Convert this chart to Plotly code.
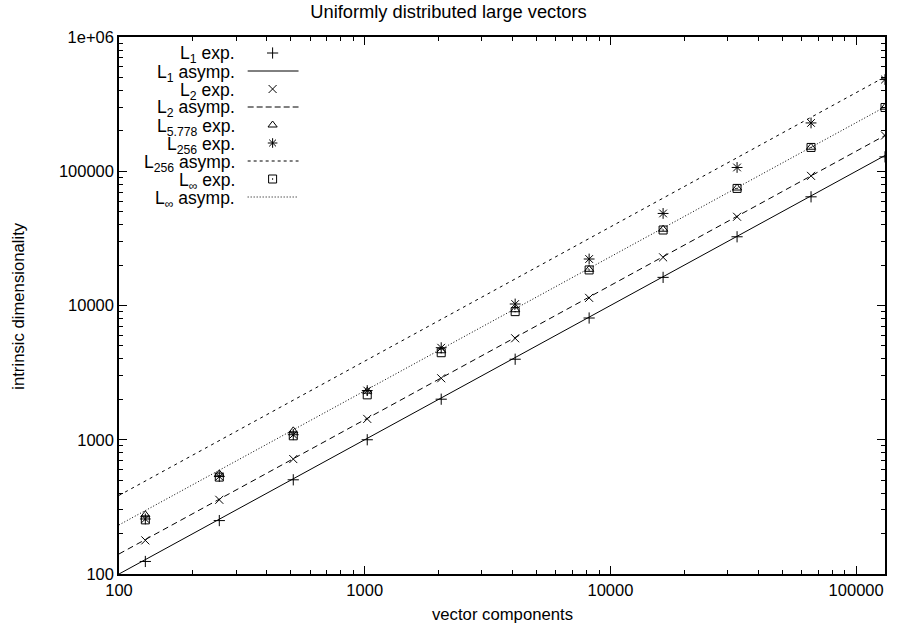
import plotly.graph_objects as go

# ---- data ----
n = [128, 256, 512, 1024, 2048, 4096, 8192, 16384, 32768, 65536, 131072]
L1_exp = [124, 250, 503, 1000, 2005, 3980, 8070, 16200, 32500, 64500, 128000]
L2_exp = [178, 357, 718, 1430, 2870, 5700, 11400, 22850, 45800, 92400, 184600]
L5778_exp = [276, 557, 1165, 2300, 4600, 9300, 18600, 37000, 75000, 151000, 300000]
L256_exp = [257, 532, 1090, 2325, 4850, 10260, 22200, 48500, 106700, 229000, 482000]
Linf_exp = [253, 527, 1070, 2160, 4450, 9000, 18400, 36500, 74500, 150400, 298500]

asym_x = [100, 131072]
L1_asym = [100, 131072]
L2_asym = [141, 184800]
L256_asym = [385, 504600]
Linf_asym = [232, 301500]

x_tickvals = [100, 1000, 10000, 100000]
x_ticktext = ["100", "1000", "10000", "100000"]
y_tickvals = [100, 1000, 10000, 100000, 1000000]
y_ticktext = ["100", "1000", "10000", "100000", "1e+06"]
x_minor = [m * 10 ** e for e in range(2, 6) for m in range(2, 10) if m * 10 ** e <= 131072]
y_minor = [m * 10 ** e for e in range(2, 6) for m in range(2, 10)]

FONT = "Liberation Sans"
FS_KEY = 17.5
FS_TICK = 16.5
FS_AXT = 16.7
FS_TITLE = 18.3

# legend entries: (label, kind, style)
legend_items = [
    ("L<sub>1</sub> exp.", "marker", "cross-thin-open"),
    ("L<sub>1</sub> asymp.", "line", "solid"),
    ("L<sub>2</sub> exp.", "marker", "x-thin-open"),
    ("L<sub>2</sub> asymp.", "line", "6px,3px"),
    ("L<sub>5.778</sub> exp.", "marker", "triangle-up-open"),
    ("L<sub>256</sub> exp.", "marker", "asterisk-open"),
    ("L<sub>256</sub> asymp.", "line", "3px,3px"),
    ("L<sub>∞</sub> exp.", "marker", "square-open-dot"),
    ("L<sub>∞</sub> asymp.", "line", "1px,2px"),
]

fig = go.Figure()

line_style = dict(color="black", width=1)
fig.add_trace(go.Scatter(x=asym_x, y=L1_asym, mode="lines", line=dict(line_style, dash="solid"), showlegend=False))
fig.add_trace(go.Scatter(x=asym_x, y=L2_asym, mode="lines", line=dict(line_style, dash="6px,4px"), showlegend=False))
fig.add_trace(go.Scatter(x=asym_x, y=L256_asym, mode="lines", line=dict(line_style, dash="3px,4px"), showlegend=False))
fig.add_trace(go.Scatter(x=asym_x, y=Linf_asym, mode="lines", line=dict(line_style, dash="1px,2px"), showlegend=False))

def mk(sym, size=8):
    return dict(symbol=sym, size=size, color="black", line=dict(color="black", width=1))

fig.add_trace(go.Scatter(x=n, y=L1_exp, mode="markers", marker=mk("cross-thin-open", 8), showlegend=False))
fig.add_trace(go.Scatter(x=n, y=L2_exp, mode="markers", marker=mk("x-thin-open", 8), showlegend=False))
fig.add_trace(go.Scatter(x=n, y=L5778_exp, mode="markers", marker=mk("triangle-up-open", 8), showlegend=False))
fig.add_trace(go.Scatter(x=n, y=L256_exp, mode="markers", marker=mk("asterisk-open", 9), showlegend=False))
fig.add_trace(go.Scatter(x=n, y=Linf_exp, mode="markers", marker=mk("square-open-dot", 8), showlegend=False))

# ---- manual gnuplot-style key (text right-aligned, sample at right) ----
L, R, T, B = 119, 10, 37, 58
W, H = 897, 632
pw, ph = W - L - R, H - T - B
def px2x(px):
    return (px - L) / pw
def py2y(py):
    return (H - B - py) / ph

annotations = []
shapes = []
mk_x, mk_y, mk_s = [], [], []
for i, (label, kind, style) in enumerate(legend_items):
    py = 53 + 18 * i
    annotations.append(dict(text=label, x=px2x(237), y=py2y(py + 2), xref="paper", yref="paper",
                            xanchor="right", yanchor="middle", showarrow=False, height=17,
                            font=dict(family=FONT, size=FS_KEY, color="black")))
    if kind == "line":
        shapes.append(dict(type="line", xref="paper", yref="paper", x0=px2x(248), x1=px2x(299),
                           y0=py2y(py), y1=py2y(py), line=dict(color="black", width=1, dash=style)))
    else:
        mk_x.append(px2x(273)); mk_y.append(py2y(py)); mk_s.append(style)

fig.add_trace(go.Scatter(x=mk_x, y=mk_y, mode="markers", xaxis="x2", yaxis="y2",
                         marker=dict(symbol=mk_s, size=8, color="black", line=dict(color="black", width=1)),
                         showlegend=False, hoverinfo="skip"))

annotations.append(dict(text="vector components", x=0.5, y=py2y(614), xref="paper", yref="paper",
                        yanchor="middle", showarrow=False, font=dict(family=FONT, size=FS_AXT, color="black")))
annotations.append(dict(text="intrinsic dimensionality", x=px2x(18), y=0.5, xref="paper", yref="paper",
                        textangle=-90, showarrow=False, xanchor="center", yanchor="middle",
                        font=dict(family=FONT, size=FS_AXT, color="black")))

axis_common = dict(type="log", showgrid=False, zeroline=False, showline=True, linecolor="black",
                   linewidth=1.5, mirror="ticks", ticks="inside", ticklen=8, tickwidth=1, tickcolor="black",
                   tickmode="array", tickfont=dict(family=FONT, size=FS_TICK, color="black"))
minor_common = dict(type="log", showgrid=False, zeroline=False, showline=False, mirror="ticks",
                    ticks="inside", ticklen=4, tickwidth=1, tickcolor="black", tickmode="array",
                    showticklabels=False)

fig.update_layout(
    width=W, height=H,
    margin=dict(l=L, r=R, t=T, b=B),
    paper_bgcolor="white", plot_bgcolor="white",
    title=dict(text="Uniformly distributed large vectors", x=0.5, xref="container", xanchor="center",
               y=1 - 12 / H, yref="container", yanchor="middle",
               font=dict(family=FONT, size=FS_TITLE, color="black")),
    xaxis=dict(axis_common, range=[2, 5.1175], tickvals=x_tickvals, ticktext=x_ticktext),
    yaxis=dict(axis_common, range=[2, 6], tickvals=y_tickvals, ticktext=y_ticktext),
    xaxis2=dict(range=[0, 1], overlaying="x", visible=False),
    yaxis2=dict(range=[0, 1], overlaying="y", visible=False),
    xaxis3=dict(minor_common, range=[2, 5.1175], overlaying="x", side="bottom", tickvals=x_minor),
    yaxis3=dict(minor_common, range=[2, 6], overlaying="y", side="left", tickvals=y_minor),
    annotations=annotations,
    shapes=shapes,
    showlegend=False,
)
# invisible anchor trace so the minor-tick axes are drawn
fig.add_trace(go.Scatter(x=[1000], y=[1000], xaxis="x3", yaxis="y3", mode="markers",
                         marker=dict(size=0.1, opacity=0), showlegend=False, hoverinfo="skip"))

fig.write_html("out.html", post_script="document.body.style.margin='0px';",
               config={"displayModeBar": False})
